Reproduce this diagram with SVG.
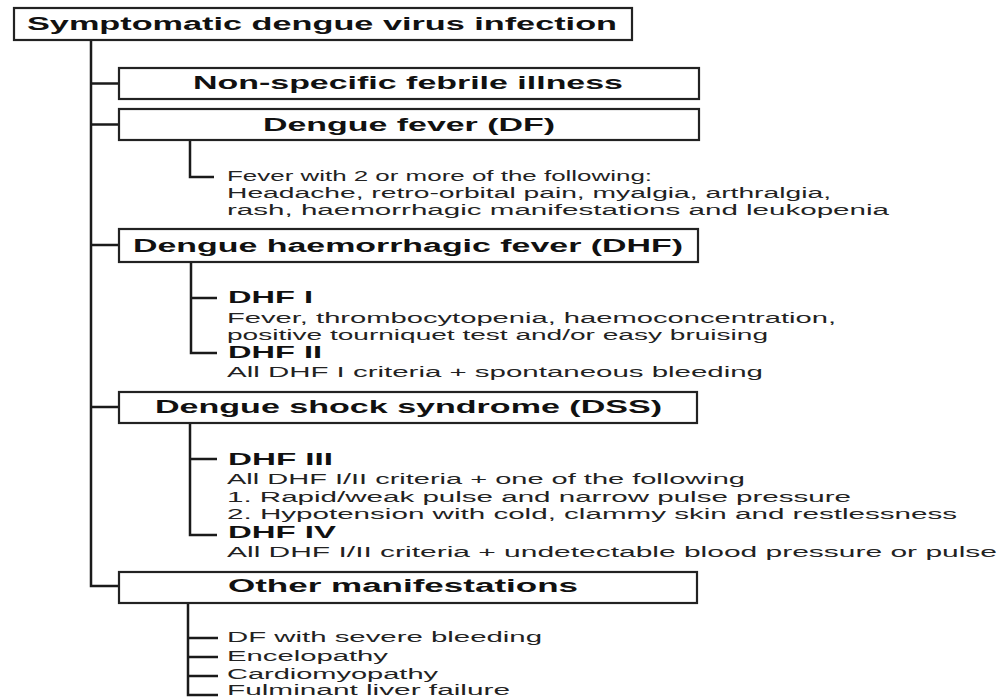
<svg xmlns="http://www.w3.org/2000/svg" width="999" height="699" viewBox="0 0 999 699">
<style>
.box{fill:#fff;stroke:#222;stroke-width:2.2}
.ln{fill:none;stroke:#1a1a1a;stroke-width:2.5}
.t{font-family:"Liberation Sans",Arial,sans-serif;font-weight:bold;font-size:18px;fill:#111}
.h{font-family:"Liberation Sans",Arial,sans-serif;font-weight:bold;font-size:17px;fill:#111}
.b{font-family:"Liberation Sans",Arial,sans-serif;font-size:14px;fill:#222}
</style>
<rect width="999" height="699" fill="#fff"/>
<g id="connectors">
<path class="ln" d="M91 40 V586 H119"/>
<path class="ln" d="M91 83.5 H119"/>
<path class="ln" d="M91 124.5 H119"/>
<path class="ln" d="M91 245 H119"/>
<path class="ln" d="M91 407 H119"/>
<path class="ln" d="M190 140 V177 H214"/>
<path class="ln" d="M191 262 V353 H217 M191 298 H217"/>
<path class="ln" d="M190 423 V535 H217 M190 459 H217"/>
<path class="ln" d="M188 603 V695 H218 M188 638 H218 M188 657 H218 M188 676 H218"/>
</g>
<g id="root">
<rect class="box" x="14" y="8" width="618" height="32"/>
<text class="t" x="27" y="30" textLength="590" lengthAdjust="spacingAndGlyphs">Symptomatic dengue virus infection</text>
</g>
<g id="nonspecific">
<rect class="box" x="119" y="68" width="580" height="31"/>
<text class="t" x="193" y="89" textLength="430" lengthAdjust="spacingAndGlyphs">Non-specific febrile illness</text>
</g>
<g id="df">
<rect class="box" x="119" y="109" width="580" height="31"/>
<text class="t" x="263" y="131" textLength="292" lengthAdjust="spacingAndGlyphs">Dengue fever (DF)</text>
</g>
<g id="df-text">
<text class="b" x="227" y="181" textLength="425" lengthAdjust="spacingAndGlyphs">Fever with 2 or more of the following:</text>
<text class="b" x="227" y="198" textLength="604" lengthAdjust="spacingAndGlyphs">Headache, retro-orbital pain, myalgia, arthralgia,</text>
<text class="b" x="227" y="215" textLength="662" lengthAdjust="spacingAndGlyphs">rash, haemorrhagic manifestations and leukopenia</text>
</g>
<g id="dhf">
<rect class="box" x="119" y="229" width="579" height="33"/>
<text class="t" x="133" y="252" textLength="550" lengthAdjust="spacingAndGlyphs">Dengue haemorrhagic fever (DHF)</text>
</g>
<g id="dhf1">
<text class="h" x="228" y="303" textLength="85" lengthAdjust="spacingAndGlyphs">DHF I</text>
<text class="b" x="227" y="323" textLength="609" lengthAdjust="spacingAndGlyphs">Fever, thrombocytopenia, haemoconcentration,</text>
<text class="b" x="227" y="340" textLength="541" lengthAdjust="spacingAndGlyphs">positive tourniquet test and/or easy bruising</text>
</g>
<g id="dhf2">
<text class="h" x="228" y="358" textLength="94" lengthAdjust="spacingAndGlyphs">DHF II</text>
<text class="b" x="227" y="377" textLength="536" lengthAdjust="spacingAndGlyphs">All DHF I criteria + spontaneous bleeding</text>
</g>
<g id="dss">
<rect class="box" x="119" y="392" width="578" height="31"/>
<text class="t" x="155" y="413" textLength="507" lengthAdjust="spacingAndGlyphs">Dengue shock syndrome (DSS)</text>
</g>
<g id="dhf3">
<text class="h" x="228" y="465" textLength="105" lengthAdjust="spacingAndGlyphs">DHF III</text>
<text class="b" x="227" y="484" textLength="518" lengthAdjust="spacingAndGlyphs">All DHF I/II criteria + one of the following</text>
<text class="b" x="227" y="502" textLength="624" lengthAdjust="spacingAndGlyphs">1. Rapid/weak pulse and narrow pulse pressure</text>
<text class="b" x="227" y="519" textLength="730" lengthAdjust="spacingAndGlyphs">2. Hypotension with cold, clammy skin and restlessness</text>
</g>
<g id="dhf4">
<text class="h" x="228" y="538" textLength="108" lengthAdjust="spacingAndGlyphs">DHF IV</text>
<text class="b" x="227" y="557" textLength="770" lengthAdjust="spacingAndGlyphs">All DHF I/II criteria + undetectable blood pressure or pulse</text>
</g>
<g id="other">
<rect class="box" x="119" y="572" width="578" height="31"/>
<text class="t" x="228" y="592" textLength="350" lengthAdjust="spacingAndGlyphs">Other manifestations</text>
</g>
<g id="other-list">
<text class="b" x="227" y="642" textLength="315" lengthAdjust="spacingAndGlyphs">DF with severe bleeding</text>
<text class="b" x="227" y="661" textLength="161" lengthAdjust="spacingAndGlyphs">Encelopathy</text>
<text class="b" x="227" y="679" textLength="211" lengthAdjust="spacingAndGlyphs">Cardiomyopathy</text>
<text class="b" x="227" y="695" textLength="283" lengthAdjust="spacingAndGlyphs">Fulminant liver failure</text>
</g>
</svg>
